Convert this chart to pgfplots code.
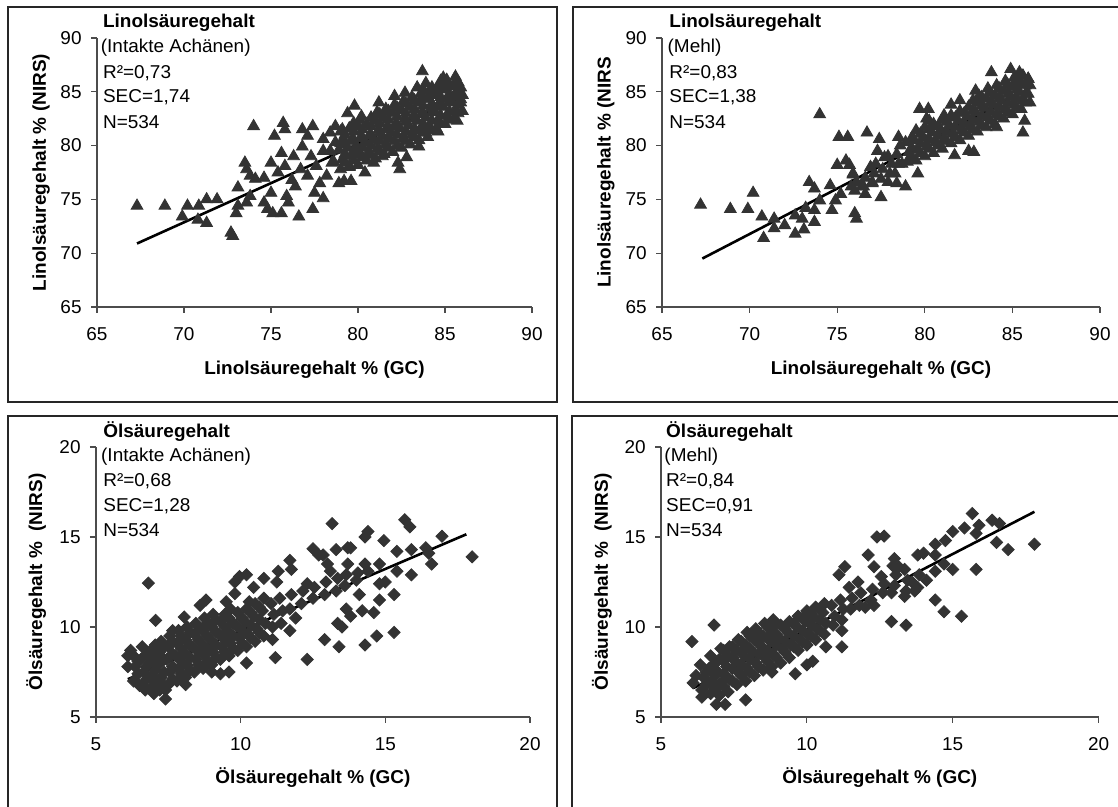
\documentclass[border=0pt]{standalone}
\usepackage{fontspec}
\setmainfont{Liberation Sans}[FakeStretch=1.02]
\usepackage{pgfplots}
\pgfplotsset{compat=1.18}
\definecolor{mk}{HTML}{333333}
\newcommand\fs{\fontsize{9.3}{10.5}\selectfont}
\pgfplotsset{
 panel/.style={
  scale only axis, clip=false,
  axis x line=bottom, axis y line=left,
  axis line style={-, black!70, line width=0.6pt},
  every tick/.style={black!70, line width=0.6pt},
  tick align=outside, major tick length=3pt,
  /pgf/number format/assume math mode=true,
  ticklabel style={font=\fs, inner sep=0pt},
  yticklabel style={anchor=east},
  xticklabel style={anchor=north},
  yticklabel shift=4.5pt,
  xticklabel shift=7.2pt,
  label style={font=\fs\bfseries, inner sep=0pt},
 },
 tri/.style={only marks, mark=triangle*, mark size=3.4pt, mark options={draw=mk, fill=mk}},
 dia/.style={only marks, mark=square*, mark size=2.15pt, mark options={draw=mk, fill=mk, rotate=45}},
 reg/.style={black, line width=1.3pt, mark=none},
}
\begin{document}
\begin{tikzpicture}
\useasboundingbox (0pt,0pt) rectangle (559pt,403.5pt);
% frames
\draw[black!85, line width=0.9pt] (4pt,202.5pt) rectangle (278.5pt,400pt);
\draw[black!85, line width=0.9pt] (286.5pt,202.5pt) rectangle (565pt,400pt);
\draw[black!85, line width=0.9pt] (4pt,-3pt) rectangle (278.5pt,195.5pt);
\draw[black!85, line width=0.9pt] (286pt,-3pt) rectangle (565pt,195.5pt);

% ---------- top left ----------
\begin{axis}[panel, at={(48.5pt,250pt)}, anchor=south west,
  width=217.5pt, height=134.5pt,
  xmin=65, xmax=90, ymin=65, ymax=90,
  xtick={65,70,...,90}, ytick={65,70,...,90},
  xlabel={Linolsäuregehalt \% (GC)},
  ylabel={Linolsäuregehalt \% (NIRS)},
  xlabel style={at={(axis description cs:0.5,-0.2342)}, anchor=center},
  ylabel style={at={(axis description cs:-0.1287,0.5)}, anchor=center},
]
\addplot[tri] table {
67.3 74.4
68.9 74.4
69.9 73.4
70.2 74.4
70.8 73.1
70.85 74.4
71.3 72.8
71.3 75.0
71.9 75.0
72.7 71.9
72.8 71.6
73.0 73.7
73.1 76.1
73.1 74.4
73.5 78.4
73.6 77.8
73.8 77.2
73.6 74.7
73.8 75.3
74.0 81.8
74.1 76.9
74.6 77.0
74.6 74.7
74.8 74.1
75.0 78.4
75.0 75.6
75.1 73.7
75.2 80.9
75.4 77.5
75.6 79.3
75.6 73.7
75.7 82.1
75.8 81.5
75.8 78.1
75.9 75.3
76.0 74.7
76.2 76.8
76.3 79.0
76.4 76.2
76.6 73.4
76.7 77.8
76.8 79.9
76.8 81.5
77.1 80.9
77.1 77.2
77.3 79.0
77.4 81.8
77.4 74.1
77.5 75.6
77.6 78.1
77.8 76.5
78.0 75.1
78.0 79.5
78.0 80.6
78.2 77.2
78.4 81.2
78.5 78.4
78.7 81.8
78.9 76.5
79.0 80.2
79.1 81.5
79.2 76.7
79.4 83.0
79.5 78.1
79.6 76.7
79.8 83.7
79.9 79.6
80.2 82.7
80.4 77.5
80.9 78.4
81.2 84.0
81.4 79.0
82.1 84.6
82.3 78.4
82.4 77.8
82.8 78.9
82.7 84.9
83.5 79.9
83.7 86.9
83.9 81.2
84.6 81.3
84.9 86.3
85.1 86.1
85.6 86.4
85.7 82.3
85.8 85.2
85.9 84.3
78.6 78.5
78.4 79.5
78.7 80.3
79.0 77.8
79.1 78.7
78.9 79.6
79.2 80.5
79.0 81.3
79.5 78.0
79.6 79.0
79.4 79.8
79.7 80.7
79.5 81.6
80.0 78.2
80.1 79.2
79.9 80.0
80.2 80.9
80.0 81.8
80.1 82.4
80.5 78.6
80.6 79.4
80.4 80.3
80.7 81.1
80.5 82.0
81.0 78.8
81.1 79.7
80.9 80.6
81.2 81.5
81.0 82.3
81.1 83.1
81.5 79.2
81.6 80.1
81.4 80.9
81.7 81.8
81.5 82.6
81.6 83.4
82.0 79.4
82.1 80.4
81.9 81.2
82.2 82.1
82.0 83.0
82.1 83.8
82.5 79.8
82.6 80.7
82.4 81.6
82.7 82.5
82.5 83.3
82.6 84.1
83.0 80.1
83.1 81.0
82.9 81.9
83.2 82.8
83.0 83.6
83.1 84.5
83.5 80.5
83.6 81.4
83.4 82.3
83.7 83.1
83.5 84.0
83.6 84.8
83.4 85.4
84.0 80.8
84.1 81.7
83.9 82.6
84.2 83.5
84.0 84.3
84.1 85.1
83.9 85.8
84.5 81.6
84.6 82.4
84.4 83.2
84.7 84.0
84.5 84.8
84.6 85.5
85.0 82.0
85.1 82.8
84.9 83.6
85.2 84.4
85.0 85.2
85.1 85.9
85.5 82.5
85.6 83.3
85.4 84.1
85.7 84.9
85.5 85.6
86.0 83.2
85.9 84.0
86.0 84.7
85.9 85.4
79.25 78.4
79.25 79.2
79.25 80.1
79.25 81.0
79.75 78.6
79.75 79.5
79.75 80.4
79.75 81.3
79.75 82.1
80.25 78.9
80.25 79.8
80.25 80.7
80.25 81.5
80.75 79.1
80.75 80.0
80.75 80.9
80.75 81.8
80.75 82.6
81.25 79.5
81.25 80.4
81.25 81.2
81.25 82.1
81.25 82.9
81.75 79.8
81.75 80.7
81.75 81.5
81.75 82.4
81.75 83.2
82.25 80.0
82.25 81.0
82.25 81.8
82.25 82.7
82.25 83.5
82.75 80.4
82.75 81.3
82.75 82.2
82.75 83.0
82.75 83.9
83.25 80.8
83.25 81.6
83.25 82.5
83.25 83.4
83.25 84.2
83.75 81.2
83.75 82.0
83.75 82.9
83.75 83.7
83.75 84.5
83.75 85.2
84.25 81.4
84.25 82.3
84.25 83.1
84.25 83.9
84.25 84.7
84.25 85.4
84.75 82.0
84.75 82.8
84.75 83.7
84.75 84.5
84.75 85.3
84.75 86.0
85.25 82.4
85.25 83.2
85.25 84.0
85.25 84.8
85.25 85.5
85.75 83.0
85.75 83.8
85.75 84.6
85.75 85.3
85.75 85.9
};
\addplot[reg] coordinates {(67.3,70.9) (86.1,84.6)};
\node[anchor=west, inner sep=0pt, font=\fs\bfseries] at (axis description cs:0.013,1.0558) {Linolsäuregehalt};
\node[anchor=west, inner sep=0pt, font=\fs] at (axis description cs:0.008,0.9628) {(Intakte Achänen)};
\node[anchor=west, inner sep=0pt, font=\fs] at (axis description cs:0.013,0.8699) {R²=0,73};
\node[anchor=west, inner sep=0pt, font=\fs] at (axis description cs:0.013,0.7807) {SEC=1,74};
\node[anchor=west, inner sep=0pt, font=\fs] at (axis description cs:0.013,0.6877) {N=534};
\end{axis}

% ---------- top right ----------
\begin{axis}[panel, at={(331pt,250pt)}, anchor=south west,
  width=219pt, height=134.5pt,
  xmin=65, xmax=90, ymin=65, ymax=90,
  xtick={65,70,...,90}, ytick={65,70,...,90},
  xlabel={Linolsäuregehalt \% (GC)},
  ylabel={Linolsäuregehalt \% (NIRS},
  xlabel style={at={(axis description cs:0.5,-0.2342)}, anchor=center},
  ylabel style={at={(axis description cs:-0.128,0.5)}, anchor=center},
]
\addplot[tri] table {
67.2 74.5
68.9 74.1
69.9 74.1
70.2 75.6
70.7 73.4
70.8 71.4
71.4 73.2
71.4 72.3
72.0 72.6
72.6 71.8
72.6 73.5
73.0 73.2
73.1 72.2
73.2 74.2
73.4 76.6
73.7 72.9
73.7 74.0
73.7 76.0
74.0 82.9
74.0 74.9
74.6 76.3
74.7 74.0
74.9 74.9
75.0 78.2
75.1 80.8
75.2 75.5
75.5 78.6
75.6 80.8
75.7 78.2
75.8 76.2
76.0 73.7
76.1 73.2
75.9 77.4
76.4 76.2
76.6 75.5
76.7 81.2
77.0 76.6
77.2 78.3
77.3 79.5
77.4 80.6
77.5 75.2
77.7 78.9
77.9 76.6
78.3 77.4
78.4 76.5
78.5 80.8
78.7 78.3
78.9 76.2
79.6 77.4
79.7 83.4
80.2 83.4
81.1 82.8
81.7 79.1
81.5 83.8
82.0 84.2
82.5 79.5
82.8 79.4
82.9 85.1
83.8 86.8
84.1 81.7
84.9 87.1
85.6 81.2
85.7 82.3
85.4 86.8
85.9 86.2
76.0 75.8
76.1 76.6
75.9 77.3
76.5 76.2
76.6 77.0
77.0 76.5
77.1 77.4
76.9 78.0
77.5 76.9
77.6 77.8
78.0 77.4
78.1 78.3
77.9 79.0
78.5 78.3
78.4 79.2
78.6 80.0
79.0 78.5
79.1 79.4
78.9 80.3
79.5 78.6
79.6 79.6
79.4 80.5
79.5 81.4
80.0 79.0
80.1 79.9
79.9 80.8
80.0 81.7
80.1 82.5
80.5 79.3
80.6 80.3
80.4 81.2
80.5 82.0
81.0 79.7
81.1 80.6
80.9 81.5
81.0 82.4
81.5 80.2
81.6 81.1
81.4 81.9
81.5 82.8
82.0 80.5
82.1 81.4
81.9 82.3
82.0 83.2
82.5 80.9
82.6 81.8
82.4 82.7
82.5 83.6
83.0 81.3
83.1 82.2
82.9 83.1
83.0 84.0
83.1 84.6
83.5 81.7
83.6 82.6
83.4 83.5
83.5 84.4
83.6 85.3
84.0 82.0
84.1 82.9
83.9 83.8
84.0 84.7
84.1 85.6
84.5 82.5
84.6 83.4
84.4 84.2
84.5 85.1
84.6 86.0
85.0 82.9
85.1 83.8
84.9 84.6
85.0 85.5
85.1 86.3
85.5 83.4
85.6 84.2
85.4 85.0
85.5 85.8
85.6 86.5
86.0 84.0
85.9 84.8
86.0 85.6
85.9 86.2
79.25 78.9
79.25 79.8
79.25 80.7
79.75 79.3
79.75 80.2
79.75 81.1
80.25 79.7
80.25 80.6
80.25 81.5
80.25 82.3
80.75 80.0
80.75 80.9
80.75 81.8
81.25 80.4
81.25 81.3
81.25 82.2
81.75 80.8
81.75 81.7
81.75 82.6
82.25 81.2
82.25 82.1
82.25 83.0
82.75 81.5
82.75 82.4
82.75 83.3
82.75 84.2
83.25 81.9
83.25 82.8
83.25 83.7
83.25 84.5
83.75 82.3
83.75 83.2
83.75 84.0
83.75 84.9
84.25 82.7
84.25 83.6
84.25 84.4
84.25 85.3
84.75 83.1
84.75 84.0
84.75 84.8
84.75 85.6
85.25 83.5
85.25 84.4
85.25 85.2
85.25 86.0
85.75 84.0
85.75 84.8
85.75 85.6
};
\addplot[reg] coordinates {(67.3,69.5) (86.0,85.3)};
\node[anchor=west, inner sep=0pt, font=\fs\bfseries] at (axis description cs:0.016,1.0558) {Linolsäuregehalt};
\node[anchor=west, inner sep=0pt, font=\fs] at (axis description cs:0.012,0.9628) {(Mehl)};
\node[anchor=west, inner sep=0pt, font=\fs] at (axis description cs:0.016,0.8699) {R²=0,83};
\node[anchor=west, inner sep=0pt, font=\fs] at (axis description cs:0.016,0.7807) {SEC=1,38};
\node[anchor=west, inner sep=0pt, font=\fs] at (axis description cs:0.016,0.6877) {N=534};
\end{axis}

% ---------- bottom left ----------
\begin{axis}[panel, at={(48pt,45pt)}, anchor=south west,
  width=217pt, height=135pt,
  xmin=5, xmax=20, ymin=5, ymax=20,
  xtick={5,10,15,20}, ytick={5,10,15,20},
  xlabel={Ölsäuregehalt \% (GC)},
  ylabel={Ölsäuregehalt \% \ (NIRS)},
  xlabel style={at={(axis description cs:0.5,-0.226)}, anchor=center},
  ylabel style={at={(axis description cs:-0.138,0.5)}, anchor=center},
]
\addplot[dia] table {
6.81 12.44
7.06 10.37
13.16 15.74
15.67 15.96
15.85 15.56
16.96 15.04
18.0 13.9
14.4 15.3
14.3 15.0
14.95 14.8
16.4 14.4
16.5 14.1
16.6 13.5
15.9 14.3
15.9 12.9
15.4 14.2
15.4 13.1
15.3 11.8
15.3 9.7
14.7 9.5
14.6 10.8
14.3 9.0
14.2 10.9
14.1 11.8
14.8 12.4
15.0 12.5
14.8 11.5
14.8 13.5
14.3 13.5
13.7 14.4
13.8 14.4
13.3 14.3
13.4 8.9
12.9 9.3
13.35 10.2
13.5 10.0
13.65 11.0
13.8 10.6
13.7 13.5
14.4 13.1
12.5 14.35
12.7 14.0
12.85 14.0
13.0 13.5
13.1 13.1
12.3 12.4
12.3 8.2
11.9 10.5
11.7 9.8
11.7 13.7
11.75 13.2
11.2 8.3
11.1 9.3
11.25 12.5
11.3 13.1
10.8 12.7
10.2 12.9
9.96 12.8
9.8 12.5
10.45 12.2
9.8 11.85
10.3 11.4
9.5 11.4
8.8 11.5
8.6 11.2
8.05 10.55
9.6 7.5
9.3 7.4
10.2 8.0
9.0 7.5
8.1 6.8
7.4 6.0
7.4 6.5
7.0 6.3
6.7 6.5
6.5 6.75
6.1 7.8
6.1 8.4
6.2 8.7
6.3 7.0
6.35 7.8
6.3 8.4
6.6 6.8
6.65 7.5
6.55 8.2
6.6 8.9
6.9 6.6
6.95 7.3
6.85 8.0
6.9 8.7
7.2 6.5
7.25 7.2
7.15 7.9
7.2 8.6
7.25 9.2
7.5 6.8
7.55 7.5
7.45 8.2
7.5 8.9
7.55 9.5
7.8 7.0
7.85 7.7
7.75 8.4
7.8 9.1
7.85 9.8
8.1 7.2
8.15 7.9
8.05 8.6
8.1 9.3
8.15 10.0
8.4 7.5
8.45 8.2
8.35 8.9
8.4 9.6
8.45 10.2
8.7 7.7
8.75 8.4
8.65 9.1
8.7 9.8
8.75 10.5
9.0 7.9
9.05 8.6
8.95 9.3
9.0 10.0
9.05 10.7
9.3 8.2
9.35 8.9
9.25 9.6
9.3 10.3
9.6 8.4
9.65 9.1
9.55 9.8
9.6 10.5
9.65 11.0
9.9 8.7
9.95 9.4
9.85 10.1
9.9 10.8
10.2 8.9
10.25 9.6
10.15 10.3
10.2 11.0
10.5 9.2
10.55 9.9
10.45 10.6
10.5 11.3
10.8 9.5
10.85 10.2
10.75 10.9
10.8 11.6
11.1 10.0
11.15 10.7
11.05 11.3
11.4 10.2
11.45 10.9
11.35 11.6
11.7 11.0
11.75 11.8
12.1 11.3
12.15 12.0
12.5 11.6
12.55 12.2
12.9 11.8
12.95 12.5
13.3 12.0
13.35 12.7
13.6 12.3
13.65 12.9
14.0 12.6
14.05 13.0
6.45 7.4
6.45 8.1
6.75 7.1
6.75 7.8
6.75 8.5
7.05 6.9
7.05 7.6
7.05 8.3
7.05 9.0
7.35 6.8
7.35 7.5
7.35 8.2
7.35 8.9
7.65 7.1
7.65 7.8
7.65 8.5
7.65 9.2
7.65 9.8
7.95 7.4
7.95 8.1
7.95 8.8
7.95 9.5
8.25 7.6
8.25 8.3
8.25 9.0
8.25 9.7
8.55 7.9
8.55 8.6
8.55 9.3
8.55 10.0
8.85 8.1
8.85 8.8
8.85 9.5
8.85 10.2
9.15 8.3
9.15 9.0
9.15 9.7
9.15 10.4
9.45 8.6
9.45 9.3
9.45 10.0
9.45 10.7
9.75 8.8
9.75 9.5
9.75 10.2
10.05 9.1
10.05 9.8
10.05 10.5
10.35 9.4
10.35 10.1
10.35 10.8
10.65 9.7
10.65 10.4
10.65 11.1
};
\addplot[reg] coordinates {(6.1,7.1) (17.8,15.15)};
\node[anchor=west, inner sep=0pt, font=\fs\bfseries] at (axis description cs:0.016,1.0556) {Ölsäuregehalt};
\node[anchor=west, inner sep=0pt, font=\fs] at (axis description cs:0.011,0.963) {(Intakte Achänen)};
\node[anchor=west, inner sep=0pt, font=\fs] at (axis description cs:0.016,0.874) {R²=0,68};
\node[anchor=west, inner sep=0pt, font=\fs] at (axis description cs:0.016,0.781) {SEC=1,28};
\node[anchor=west, inner sep=0pt, font=\fs] at (axis description cs:0.016,0.693) {N=534};
\end{axis}

% ---------- bottom right ----------
\begin{axis}[panel, at={(330.5pt,45pt)}, anchor=south west,
  width=218.8pt, height=135pt,
  xmin=5, xmax=20, ymin=5, ymax=20,
  xtick={5,10,15,20}, ytick={5,10,15,20},
  xlabel={Ölsäuregehalt \% (GC)},
  ylabel={Ölsäuregehalt \% \ (NIRS)},
  xlabel style={at={(axis description cs:0.5,-0.226)}, anchor=center},
  ylabel style={at={(axis description cs:-0.135,0.5)}, anchor=center},
]
\addplot[dia] table {
6.06 9.19
6.82 10.11
15.67 16.30
16.35 15.93
16.6 15.75
15.9 15.65
15.8 15.2
15.4 15.5
15.0 15.3
17.8 14.6
16.9 14.3
16.5 14.7
15.8 13.2
15.3 10.6
14.7 10.85
14.4 11.5
12.4 15.0
12.65 15.05
12.1 14.0
12.3 13.35
11.3 13.35
11.1 12.9
12.9 10.3
13.4 10.1
12.3 11.2
12.0 11.1
12.9 11.9
13.0 13.8
13.15 13.35
13.8 14.0
14.0 14.1
14.4 14.6
14.75 14.8
14.4 14.0
14.7 13.5
15.0 13.2
14.4 13.1
14.1 12.6
13.6 12.5
13.7 12.0
13.35 11.7
11.2 8.9
11.2 9.8
10.65 8.9
10.2 8.1
10.0 7.9
9.6 7.4
8.8 7.5
7.9 5.95
7.2 5.7
6.9 5.7
6.4 6.1
6.2 7.3
6.1 6.9
7.0 6.8
6.4 6.5
6.45 7.2
6.35 7.9
6.7 6.3
6.75 7.0
6.65 7.7
6.7 8.4
7.0 6.2
7.05 6.9
6.95 7.5
7.0 8.2
7.05 8.8
7.3 6.4
7.35 7.1
7.25 7.8
7.3 8.4
7.35 8.9
7.6 6.8
7.65 7.5
7.55 8.1
7.6 8.7
7.65 9.3
7.9 7.0
7.95 7.7
7.85 8.4
7.9 9.0
7.95 9.7
8.2 7.3
8.25 8.0
8.15 8.6
8.2 9.3
8.25 9.9
8.5 7.6
8.55 8.3
8.45 8.9
8.5 9.5
8.55 10.2
8.8 7.8
8.85 8.5
8.75 9.2
8.8 9.8
8.85 10.4
9.1 8.0
9.15 8.8
9.05 9.4
9.1 10.1
9.4 8.3
9.45 9.0
9.35 9.7
9.4 10.3
9.7 8.7
9.75 9.3
9.65 10.0
9.7 10.6
10.0 9.0
10.05 9.6
9.95 10.3
10.0 10.9
10.3 9.3
10.35 9.9
10.25 10.5
10.3 11.1
10.6 9.6
10.65 10.2
10.55 10.8
10.6 11.3
10.9 10.1
10.95 10.6
10.85 11.2
11.2 10.4
11.25 11.0
11.15 11.5
11.5 11.0
11.55 11.6
11.45 12.2
11.8 11.2
11.85 11.9
11.75 12.5
12.2 11.5
12.25 12.1
12.6 11.9
12.65 12.4
12.55 12.8
13.0 12.3
13.05 12.9
12.95 13.4
13.4 12.0
13.45 12.6
13.35 13.2
13.8 12.2
13.85 12.9
6.55 6.8
6.55 7.5
6.85 6.6
6.85 7.3
6.85 8.0
7.15 6.7
7.15 7.4
7.15 8.1
7.15 8.7
7.45 7.0
7.45 7.7
7.45 8.3
7.45 8.9
7.75 7.3
7.75 7.9
7.75 8.6
7.75 9.2
8.05 7.5
8.05 8.2
8.05 8.8
8.05 9.5
8.35 7.8
8.35 8.5
8.35 9.1
8.35 9.7
8.65 8.1
8.65 8.7
8.65 9.4
8.65 10.0
8.95 8.3
8.95 9.0
8.95 9.6
8.95 10.2
9.25 8.6
9.25 9.2
9.25 9.9
9.55 8.9
9.55 9.5
9.55 10.2
9.85 9.2
9.85 9.8
9.85 10.5
10.15 9.5
10.15 10.1
10.15 10.7
10.45 9.8
10.45 10.4
10.45 11.0
};
\addplot[reg] coordinates {(6.1,6.6) (17.8,16.4)};
\node[anchor=west, inner sep=0pt, font=\fs\bfseries] at (axis description cs:0.011,1.0556) {Ölsäuregehalt};
\node[anchor=west, inner sep=0pt, font=\fs] at (axis description cs:0.007,0.963) {(Mehl)};
\node[anchor=west, inner sep=0pt, font=\fs] at (axis description cs:0.011,0.874) {R²=0,84};
\node[anchor=west, inner sep=0pt, font=\fs] at (axis description cs:0.011,0.781) {SEC=0,91};
\node[anchor=west, inner sep=0pt, font=\fs] at (axis description cs:0.011,0.693) {N=534};
\end{axis}
\end{tikzpicture}
\end{document}
